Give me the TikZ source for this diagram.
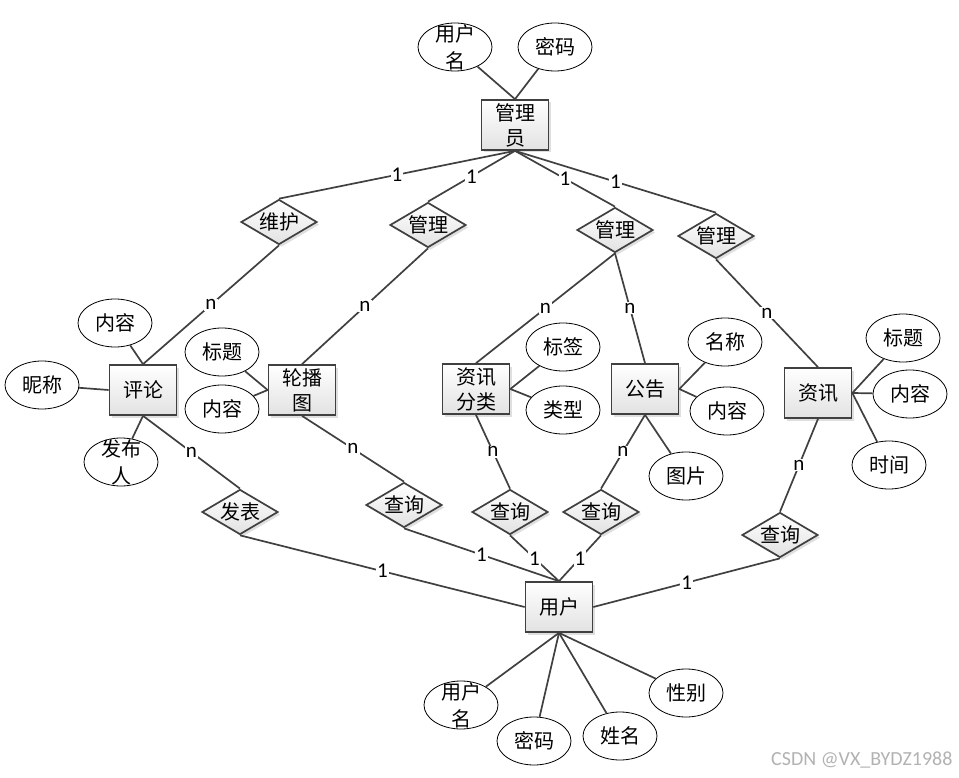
\documentclass[tikz,border=0pt]{standalone}
\usepackage{fontspec}
\usepackage{tikz}
\usetikzlibrary{shapes.geometric, shadows}
\newfontfamily\cjk{Noto Sans CJK SC}
\newfontfamily\numfont{Carlito}
\definecolor{erline}{HTML}{404040}
\definecolor{erfill}{HTML}{E2E2E2}

\tikzset{
  entity/.style={rectangle, draw=erline, line width=1.7pt,
                 top color=white, bottom color=erfill,
                 drop shadow={shadow xshift=2.5pt, shadow yshift=-2.5pt, opacity=.25},
                 minimum width=67pt, minimum height=50pt, inner sep=0pt,
                 align=center, font=\cjk\fontsize{20}{25}\selectfont},
  relation/.style={diamond, draw=erline, line width=1.7pt,
                 top color=white, bottom color=erfill,
                 drop shadow={shadow xshift=2.5pt, shadow yshift=-2.5pt, opacity=.25},
                 shape aspect=1.7, minimum width=76pt, minimum height=45pt,
                 inner sep=-2pt, font=\cjk\fontsize{20}{25}\selectfont},
  attr/.style={ellipse, draw=black, line width=0.8pt, fill=white,
               minimum width=74pt, minimum height=48pt, inner sep=0pt,
               align=center, font=\cjk\fontsize{20}{27}\selectfont},
  attrtwo/.style={attr, inner ysep=-10pt},
  link/.style={draw=erline, line width=1.7pt},
  card/.style={fill=white, inner sep=1pt, font=\numfont\fontsize{21}{21}\selectfont},
}

\begin{document}
\begin{tikzpicture}[x=1pt, y=-1pt]
  \useasboundingbox (0,0) rectangle (959,778);

  % entities
  \node[entity] (gly)  at (515,125) {管理\\员};
  \node[entity] (pl)   at (143,390) {评论};
  \node[entity] (lbt)  at (302,390) {轮播\\图};
  \node[entity] (zxfl) at (476,389) {资讯\\分类};
  \node[entity] (gg)   at (645,389) {公告};
  \node[entity] (zx)   at (818,393) {资讯};
  \node[entity] (yh)   at (559,607) {用户};

  % relations
  \node[relation] (wh)  at (279,222) {维护};
  \node[relation] (gl1) at (428,225) {管理};
  \node[relation] (gl2) at (615,230) {管理};
  \node[relation] (gl3) at (716,236) {管理};
  \node[relation] (fb)  at (240,512) {发表};
  \node[relation] (cx1) at (404,505) {查询};
  \node[relation] (cx2) at (510,512) {查询};
  \node[relation] (cx3) at (601,512) {查询};
  \node[relation] (cx4) at (780,535) {查询};

  % attributes
  \node[attrtwo] (glyname) at (455,47) {用户\\名};
  \node[attr] (glypwd) at (555,47) {密码};
  \node[attr] (plnr)   at (115,323) {内容};
  \node[attr] (plnc)   at (42,385)  {昵称};
  \node[attrtwo] (plfbr) at (121,462) {发布\\人};
  \node[attr] (lbtbt)  at (222,352) {标题};
  \node[attr] (lbtnr)  at (222,409) {内容};
  \node[attr] (flbq)   at (563,347) {标签};
  \node[attr] (fllx)   at (563,410) {类型};
  \node[attr] (ggmc)   at (725,342) {名称};
  \node[attr] (ggnr)   at (727,411) {内容};
  \node[attr] (ggtp)   at (686,476) {图片};
  \node[attr] (zxbt)   at (903,338) {标题};
  \node[attr] (zxnr)   at (910,394) {内容};
  \node[attr] (zxsj)   at (889,465) {时间};
  \node[attrtwo] (yhname) at (461,705) {用户\\名};
  \node[attr] (yhpwd)  at (534,741) {密码};
  \node[attr] (yhxm)   at (620,736) {姓名};
  \node[attr] (yhxb)   at (686,693) {性别};

  % attribute lines
  \draw[link] (glyname) -- (gly.north);
  \draw[link] (glypwd) -- (gly.north);
  \draw[link] (plnr) -- (pl.north);
  \draw[link] (plnc) -- (pl.west);
  \draw[link] (plfbr) -- (pl.south);
  \draw[link] (lbtbt) -- (lbt.west);
  \draw[link] (lbtnr) -- (lbt.west);
  \draw[link] (flbq) -- (zxfl.east);
  \draw[link] (fllx) -- (zxfl.east);
  \draw[link] (ggmc) -- (gg.east);
  \draw[link] (ggnr) -- (gg.east);
  \draw[link] (ggtp) -- (gg.south);
  \draw[link] (zxbt) -- (zx.east);
  \draw[link] (zxnr) -- (zx.east);
  \draw[link] (zxsj) -- (zx.east);
  \draw[link] (yhname) -- (yh.south);
  \draw[link] (yhpwd) -- (yh.south);
  \draw[link] (yhxm) -- (yh.south);
  \draw[link] (yhxb) -- (yh.south);

  % relationship lines
  \draw[link] (gly.south) -- node[card] {1} (wh.north);
  \draw[link] (gly.south) -- node[card] {1} (gl1.north);
  \draw[link] (gly.south) -- node[card] {1} (gl2.north);
  \draw[link] (gly.south) -- node[card] {1} (gl3.north);
  \draw[link] (wh.south) -- node[card] {n} (pl.north);
  \draw[link] (gl1.south) -- node[card] {n} (lbt.north);
  \draw[link] (gl2.south) -- node[card] {n} (zxfl.north);
  \draw[link] (gl2.south) -- node[card] {n} (gg.north);
  \draw[link] (gl3.south) -- node[card] {n} (zx.north);
  \draw[link] (pl.south) -- node[card] {n} (fb.north);
  \draw[link] (lbt.south) -- node[card] {n} (cx1.north);
  \draw[link] (zxfl.south) -- node[card] {n} (cx2.north);
  \draw[link] (gg.south) -- node[card] {n} (cx3.north);
  \draw[link] (zx.south) -- node[card] {n} (cx4.north);
  \draw[link] (fb.south) -- node[card] {1} (yh.west);
  \draw[link] (cx1.south) -- node[card] {1} (yh.north);
  \draw[link] (cx2.south) -- node[card] {1} (yh.north);
  \draw[link] (cx3.south) -- node[card] {1} (yh.north);
  \draw[link] (yh.east) -- node[card] {1} (cx4.south);

  \node[anchor=east, text=black!30, font=\numfont\fontsize{20}{20}\selectfont]
    (mark) at (956,760) {CSDN @VX\_BYDZ1988};
\end{tikzpicture}
\end{document}
